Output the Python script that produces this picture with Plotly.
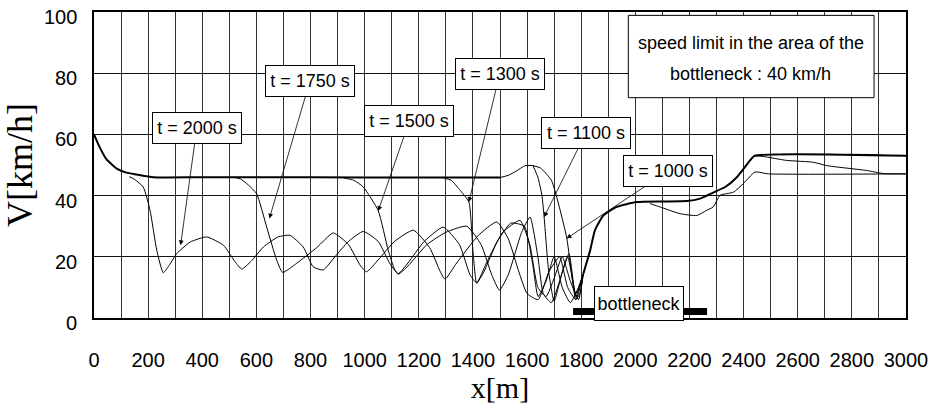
import plotly.graph_objects as go

# ---- data (x in m, V in km/h) ----
upstream_x = [0, 20, 45, 84, 120, 158, 219, 400, 800, 1200, 1500]
upstream_v = [60, 56, 52, 48.8, 47.5, 46.9, 46.0, 46.0, 46.0, 45.9, 45.9]

bump_x = [1500, 1530, 1560, 1593, 1622]
bump_v = [45.9, 46.6, 48.0, 49.8, 49.8]

t2000_x = [130, 150, 182, 207, 232, 256, 280, 305, 355, 416, 478, 520, 546, 580, 626, 680, 724, 773, 810, 847,
           890, 940, 995, 1050, 1095, 1124, 1160, 1220, 1290, 1350, 1390, 1414, 1450, 1510, 1574, 1610, 1640,
           1670, 1700, 1730, 1760, 1790, 1808]
t2000_v = [46.2, 45.3, 42.8, 35.2, 22.1, 14.8, 17.5, 21, 24.8, 26.5, 23.8, 18.5, 16, 18.5, 23.2, 26.5, 27, 23.2,
           16.7, 15.7, 20, 25, 28.3, 25, 17.5, 14.5, 18, 25, 29.7, 24, 14, 11.5, 18, 28, 31.9, 24, 10, 7, 13, 20,
           12, 6, 14.5]

t1750_x = [515, 540, 570, 601, 638, 675, 697, 749, 823, 884, 940, 985, 1007, 1050, 1110, 1180, 1240, 1280, 1297,
           1340, 1420, 1488, 1530, 1570, 1600, 1641, 1680, 1720, 1750, 1780, 1808]
t1750_v = [46, 45.5, 43.5, 40.6, 29.7, 18.9, 14.9, 17.9, 23, 27.8, 24, 17, 15.1, 19, 25, 28.7, 23, 15, 12.7, 18,
           27, 31.4, 26, 15, 8, 6, 15, 20, 10, 6, 14.5]

t1500_x = [921, 960, 995, 1050, 1087, 1110, 1124, 1160, 1230, 1300, 1377, 1430, 1470, 1498, 1530, 1580, 1611,
           1640, 1660, 1690, 1720, 1750, 1780, 1808]
t1500_v = [45.8, 45, 42.8, 35.1, 22.1, 16, 14.3, 17, 24, 28, 30, 24, 14, 9.1, 14, 28, 33, 20, 8, 5, 12, 20, 8,
           14.5]

t1300_x = [1291, 1320, 1350, 1385, 1400, 1414, 1440, 1490, 1540, 1590, 1620, 1641, 1670, 1700, 1730, 1760, 1790,
           1808]
t1300_v = [45.8, 45, 42, 37.9, 22, 11.4, 15, 25, 31, 30, 18, 7, 12, 20, 10, 5, 10, 14.5]

t1100_x = [1622, 1640, 1655, 1663, 1680, 1700, 1730, 1755, 1780, 1808]
t1100_v = [49.8, 46, 40, 33, 15, 5.5, 15, 21, 7, 14.5]

t1000_x = [1622, 1650, 1690, 1720, 1747, 1765, 1780, 1795, 1808]
t1000_v = [49.8, 49, 45, 36, 26, 14, 6, 8, 14.5]

downstream_x = [1808, 1833, 1851, 1882, 1931, 2005, 2100, 2190, 2239, 2288, 2332, 2375, 2424, 2440, 3000]
downstream_v = [14.5, 22.1, 28.7, 33.5, 36.3, 37.9, 38.1, 38.2, 39.0, 41.0, 42.8, 46.0, 51.5, 53.0, 53.0]

low_x = [2054, 2091, 2165, 2227, 2264, 2288, 2313, 2362, 2399, 2442, 2492, 3000]
low_v = [37.4, 36.3, 34.1, 33.5, 35.2, 36.3, 40.1, 41.1, 43.9, 47.7, 47.1, 47.1]

decl_x = [2440, 2472, 2559, 2658, 2707, 2855, 2917, 3000]
decl_v = [53.0, 52.8, 51.5, 50.9, 49.8, 48.2, 47.2, 47.1]

bottleneck_x = [1770, 2265]
bottleneck_v = [2.1, 2.1]

labels = ["t = 2000 s", "t = 1750 s", "t = 1500 s", "t = 1300 s", "t = 1100 s", "t = 1000 s"]
label_head_x = [320, 648, 1050, 1385, 1663, 1746]
label_head_v = [23.8, 32.5, 35.0, 37.9, 33.0, 26.0]
label_box_x = [380, 798, 1165, 1499, 1816, 2121]
label_box_v = [62.2, 77.5, 64.4, 79.8, 60.3, 48.0]

note_lines = ["speed limit in the area of the", "bottleneck : 40 km/h"]
note_x = 2427
note_v = [90.0, 79.8]
note_box_x = [1974, 2882]
note_box_v = [72.0, 98.9]

x_ticks = list(range(0, 3001, 200))
y_ticks = list(range(0, 101, 20))
y_tick_text = [str(v) for v in y_ticks]

SANS = "Liberation Sans, Arial, sans-serif"
SERIF = "Liberation Serif, Times New Roman, serif"

fig = go.Figure()

def add_line(x, y, w):
    fig.add_trace(go.Scatter(x=x, y=y, mode="lines",
                             line=dict(color="black", width=w, shape="spline", smoothing=0.5),
                             hoverinfo="skip", showlegend=False))

add_line(upstream_x, upstream_v, 2)
add_line(bump_x, bump_v, 1)
for xs, vs in [(t2000_x, t2000_v), (t1750_x, t1750_v), (t1500_x, t1500_v), (t1300_x, t1300_v),
               (t1100_x, t1100_v), (t1000_x, t1000_v)]:
    add_line(xs, vs, 1)
add_line(downstream_x, downstream_v, 2)
add_line(low_x, low_v, 1)
add_line(decl_x, decl_v, 1)

fig.add_trace(go.Scatter(x=bottleneck_x, y=bottleneck_v, mode="lines", line=dict(color="black", width=7),
                         hoverinfo="skip", showlegend=False))

for txt, hx, hy, bx, by in zip(labels, label_head_x, label_head_v, label_box_x, label_box_v):
    fig.add_annotation(x=hx, y=hy, ax=bx, ay=by, xref="x", yref="y", axref="x", ayref="y",
                       text=txt, showarrow=True, arrowhead=2, arrowsize=1.2, arrowwidth=0.8,
                       arrowcolor="black", font=dict(family=SANS, size=18, color="black"),
                       bgcolor="white", bordercolor="black", borderwidth=1, borderpad=2,
                       width=84, height=26)

fig.add_shape(type="rect", xref="x", yref="y", x0=note_box_x[0], x1=note_box_x[1],
              y0=note_box_v[0], y1=note_box_v[1], line=dict(color="black", width=1), fillcolor="white",
              layer="above")
for line_txt, vy in zip(note_lines, note_v):
    fig.add_annotation(x=note_x, y=vy, xref="x", yref="y", showarrow=False, text=line_txt,
                       font=dict(family=SANS, size=18, color="black"))

fig.add_annotation(x=2012, y=4.6, xref="x", yref="y", showarrow=False, text="bottleneck",
                   font=dict(family=SANS, size=18, color="black"),
                   bgcolor="white", bordercolor="black", borderwidth=1, borderpad=2,
                   width=84, height=29)

# y tick labels (drawn slightly below their grid lines, as in the original)
for v, txt in zip(y_ticks, y_tick_text):
    fig.add_annotation(x=0, xref="paper", xanchor="right", xshift=-15, y=v, yref="y", yshift=-5,
                       text=txt, showarrow=False, font=dict(family=SANS, size=20, color="black"))

fig.update_layout(
    template="none",
    width=933, height=410,
    margin=dict(l=94, r=27, t=12, b=92, autoexpand=False),
    paper_bgcolor="white", plot_bgcolor="white",
    showlegend=False,
    xaxis=dict(range=[0, 3000], tickvals=x_ticks, ticks="", showgrid=True, gridcolor="#333", gridwidth=1,
               minor=dict(dtick=100, showgrid=True, gridcolor="#333", gridwidth=1),
               showline=True, linecolor="black", linewidth=1.5, mirror=True, zeroline=False,
               automargin=False,
               tickfont=dict(family=SANS, size=20, color="black"), ticklabelstandoff=23,
               title=dict(text="x[m]", font=dict(family=SERIF, size=30, color="black"), standoff=4)),
    yaxis=dict(range=[0, 100], tickvals=y_ticks, showticklabels=False, ticks="", showgrid=True,
               gridcolor="#111", gridwidth=1,
               showline=True, linecolor="black", linewidth=1.5, mirror=True, zeroline=False,
               automargin=False,
               title=dict(text="V[km/h]", font=dict(family=SERIF, size=36, color="black"), standoff=58)),
)

fig.write_html("out.html")
